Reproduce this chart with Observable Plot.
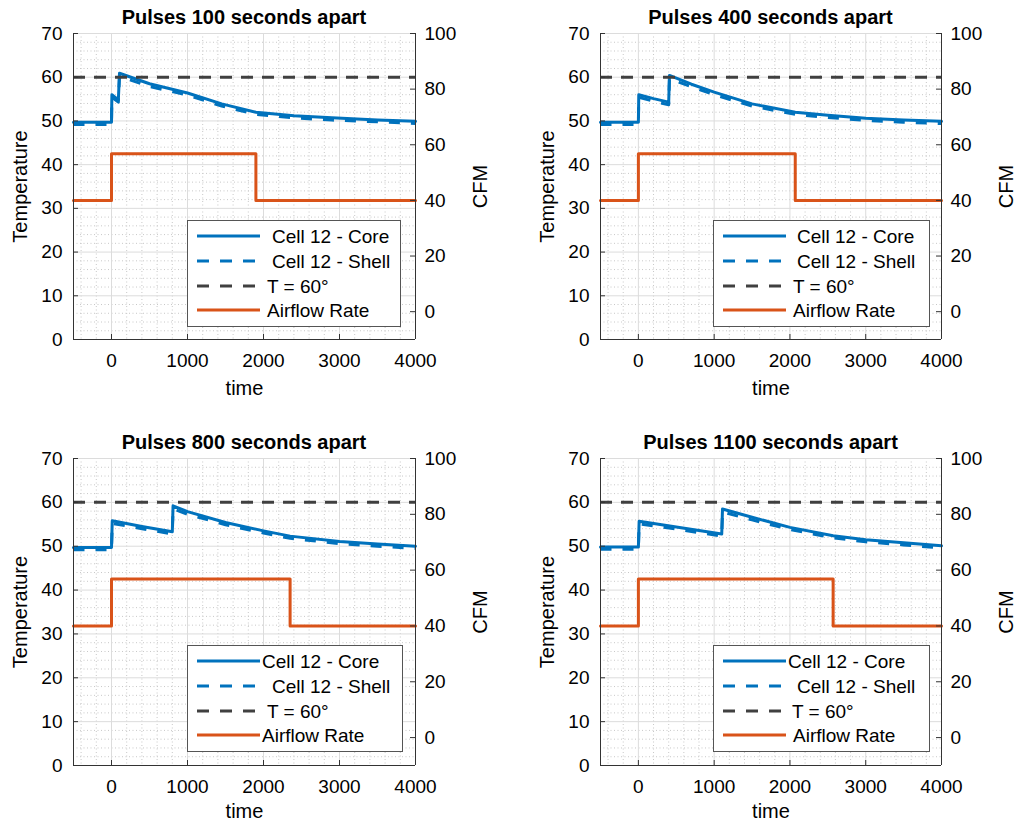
<!DOCTYPE html>
<html>
<head>
<meta charset="utf-8">
<script src="https://cdn.jsdelivr.net/npm/d3@7"></script>
<script src="https://cdn.jsdelivr.net/npm/@observablehq/plot@0.6"></script>
<style>
  html, body { margin: 0; padding: 0; background: #fff; }
  #root { position: relative; width: 1018px; height: 830px; background: #fff; overflow: hidden;
          font-family: "Liberation Sans", Arial, Helvetica, sans-serif; color: #000; }
  .title { position: absolute; text-align: center; font-weight: bold; font-size: 20px; line-height: 24px; }
  .panel { position: absolute; }
  .legend { position: absolute; }
</style>
</head>
<body>
<div id="root"></div>
<script>
// ---------------- data ----------------
const titles = ["Pulses 100 seconds apart", "Pulses 400 seconds apart", "Pulses 800 seconds apart", "Pulses 1100 seconds apart"];
const seriesNames = ["Cell 12 - Core", "Cell 12 - Shell", "T = 60°", "Airflow Rate"];

const xTicks = [0, 1000, 2000, 3000, 4000];
const tempTicks = [0, 10, 20, 30, 40, 50, 60, 70];
const cfmTicks = [0, 20, 40, 60, 80, 100];
const xDomain = [-500, 4000];
const tempDomain = [0, 70];
const cfmDomain = [-10, 100];
const threshold = [60];

// Panel 1: pulses 100 s apart
const time1  = [-500, 0, 5, 90, 105, 500, 1000, 1450, 1900, 2400, 2900, 3500, 4000];
const core1  = [49.7, 49.7, 56.0, 54.8, 60.9, 58.5, 56.4, 53.9, 52.0, 51.2, 50.7, 50.2, 49.9];
const shell1 = [49.2, 49.2, 55.4, 54.3, 60.2, 57.9, 55.9, 53.4, 51.5, 50.7, 50.2, 49.8, 49.4];
// Panel 2: pulses 400 s apart
const time2  = [-500, 0, 5, 200, 400, 410, 700, 1000, 1500, 2070, 2500, 3000, 3500, 4000];
const core2  = [49.7, 49.7, 56.0, 55.1, 54.3, 60.4, 58.4, 56.6, 53.9, 52.0, 51.3, 50.6, 50.2, 49.9];
const shell2 = [49.2, 49.2, 55.4, 54.5, 53.7, 59.7, 57.8, 56.0, 53.4, 51.5, 50.8, 50.1, 49.7, 49.4];
// Panel 3: pulses 800 s apart
const time3  = [-500, 0, 10, 400, 800, 810, 1000, 1500, 2000, 2350, 3000, 3500, 4000];
const core3  = [49.7, 49.7, 55.8, 54.5, 53.3, 59.2, 57.9, 55.4, 53.5, 52.3, 51.1, 50.5, 50.0];
const shell3 = [49.2, 49.2, 55.2, 54.0, 52.8, 58.5, 57.3, 54.9, 53.0, 51.8, 50.6, 50.0, 49.5];
// Panel 4: pulses 1100 s apart
const time4  = [-500, 0, 10, 500, 1100, 1110, 1500, 2000, 2570, 3000, 3500, 4000];
const core4  = [49.8, 49.8, 55.7, 54.4, 52.8, 58.5, 56.6, 54.3, 52.4, 51.5, 50.8, 50.1];
const shell4 = [49.3, 49.3, 55.1, 53.9, 52.3, 57.8, 56.0, 53.8, 51.9, 51.0, 50.3, 49.6];

// Airflow (CFM): step on at t = 0, off at airOff[i]
const airOff = [1900, 2070, 2350, 2570];
const airCFM = [40, 56.8, 40, 40];

const times = [time1, time2, time3, time4];
const cores = [core1, core2, core3, core4];
const shells = [shell1, shell2, shell3, shell4];

// ---------------- styles / layout ----------------
const FONT = '"Liberation Sans", Arial, Helvetica, sans-serif';
const C_CORE = "#0072BD", C_THR = "#404040", C_AIR = "#D95319";
const geoms = [
  {left: 0,   top: 0,   width: 527, height: 415, mL: 73, mR: 112, mT: 33, mB: 76, timeDy: 49},
  {left: 527, top: 0,   width: 491, height: 415, mL: 73, mR: 77,  mT: 33, mB: 76, timeDy: 49},
  {left: 0,   top: 424, width: 527, height: 406, mL: 73, mR: 112, mT: 34, mB: 65, timeDy: 46},
  {left: 527, top: 424, width: 491, height: 406, mL: 73, mR: 77,  mT: 34, mB: 65, timeDy: 46}
];
const legendBoxes = [
  {x: 187, y: 220, w: 214, off: [85, 85, 80, 80]},
  {x: 713, y: 220, w: 217, off: [84, 84, 80, 80]},
  {x: 187, y: 645, w: 216, off: [75, 85, 80, 75]},
  {x: 713, y: 645, w: 217, off: [75, 84, 79, 80]}
];

const cfmToTemp = c => (c - cfmDomain[0]) / (cfmDomain[1] - cfmDomain[0]) * (tempDomain[1] - tempDomain[0]) + tempDomain[0];
const tempToCfm = t => String(Math.round((t - tempDomain[0]) / (tempDomain[1] - tempDomain[0]) * (cfmDomain[1] - cfmDomain[0]) + cfmDomain[0]));

const minorX = d3.range(-400, 4000, 200).filter(v => v % 1000 !== 0);
const minorY = d3.range(2, 70, 2).filter(v => v % 10 !== 0);
const root = document.getElementById("root");

geoms.forEach((g, i) => {
  const innerW = g.width - g.mL - g.mR;
  const innerH = g.height - g.mT - g.mB;
  const coreRows = times[i].map((t, k) => ({t, v: cores[i][k]}));
  const shellRows = times[i].map((t, k) => ({t, v: shells[i][k]}));
  const airTimes = [xDomain[0], 0, airOff[i], xDomain[1]];
  const airRows = airTimes.map((t, k) => ({t, cfm: airCFM[k]}));

  const svg = Plot.plot({
    width: g.width, height: g.height,
    marginLeft: g.mL, marginRight: g.mR, marginTop: g.mT, marginBottom: g.mB,
    style: {fontFamily: FONT, fontSize: "19px", color: "#000", background: "transparent", overflow: "visible"},
    x: {domain: xDomain},
    y: {domain: tempDomain},
    marks: [
      // minor grid (dotted)
      Plot.ruleX(minorX, {x: d => d, stroke: "#c8c8c8", strokeWidth: 1, strokeDasharray: "1,2.5"}),
      Plot.ruleY(minorY, {y: d => d, stroke: "#c8c8c8", strokeWidth: 1, strokeDasharray: "1,2.5"}),
      // major grid
      Plot.ruleX(xTicks, {x: d => d, stroke: "#dcdcdc", strokeWidth: 1}),
      Plot.ruleY(tempTicks, {y: d => d, stroke: "#dcdcdc", strokeWidth: 1}),
      // data
      Plot.line(coreRows, {x: "t", y: "v", stroke: C_CORE, strokeWidth: 3}),
      Plot.line(shellRows, {x: "t", y: "v", stroke: C_CORE, strokeWidth: 3, strokeDasharray: "11,11", strokeLinecap: "butt"}),
      Plot.ruleY(threshold, {y: d => d, stroke: C_THR, strokeWidth: 3, strokeDasharray: "12,9", strokeLinecap: "butt"}),
      Plot.line(airRows, {x: "t", y: d => cfmToTemp(d.cfm), curve: "step-after", stroke: C_AIR, strokeWidth: 3}),
      // axis lines
      Plot.ruleX([xDomain[0]], {x: d => d, stroke: "#333", strokeWidth: 1}),
      Plot.ruleX([xDomain[1]], {x: d => d, stroke: "#333", strokeWidth: 1}),
      Plot.ruleY([tempDomain[0]], {y: d => d, stroke: "#333", strokeWidth: 1}),
      // inward ticks
      Plot.tickY(tempTicks, {y: d => d, insetRight: innerW - 5, stroke: "#333"}),
      Plot.tickY(cfmTicks.map(cfmToTemp), {y: d => d, insetLeft: innerW - 5, stroke: "#333"}),
      Plot.tickX(xTicks, {x: d => d, insetTop: innerH - 5, stroke: "#333"}),
      // tick labels
      Plot.axisY(tempTicks, {anchor: "left", tickSize: 0, tickPadding: 11, label: null, tickFormat: d => String(d), fontSize: 19}),
      Plot.axisY(cfmTicks.map(cfmToTemp), {anchor: "right", tickSize: 0, tickPadding: 9, tickFormat: tempToCfm, label: null, fontSize: 19}),
      Plot.axisX(xTicks, {anchor: "bottom", tickSize: 0, tickPadding: 14, label: null, tickFormat: d => String(d), fontSize: 19}),
      // axis titles
      Plot.text(["Temperature"], {text: d => d, frameAnchor: "left", textAnchor: "middle", lineAnchor: "middle", rotate: -90, dx: -53, fontSize: 20}),
      Plot.text(["CFM"], {text: d => d, frameAnchor: "right", textAnchor: "middle", lineAnchor: "middle", rotate: -90, dx: 65, fontSize: 20}),
      Plot.text(["time"], {text: d => d, frameAnchor: "bottom", textAnchor: "middle", lineAnchor: "middle", dy: g.timeDy, fontSize: 20})
    ]
  });
  svg.classList.add("panel");
  svg.style.left = g.left + "px";
  svg.style.top = g.top + "px";
  root.appendChild(svg);

  // title
  const t = document.createElement("div");
  t.className = "title";
  t.textContent = titles[i];
  t.style.left = (g.left + g.mL) + "px";
  t.style.width = innerW + "px";
  t.style.top = (g.top + g.mT - 28) + "px";
  root.appendChild(t);

  // legend
  const lb = legendBoxes[i];
  const lh = 107;
  const leg = d3.create("svg").attr("class", "legend")
    .attr("width", lb.w).attr("height", lh)
    .style("left", lb.x + "px").style("top", lb.y + "px");
  leg.append("rect").attr("x", 0.5).attr("y", 0.5).attr("width", lb.w - 1).attr("height", lh - 1)
    .attr("fill", "#fff").attr("stroke", "#555").attr("stroke-width", 1);
  const rowsY = [16, 41, 66, 90];
  const styles = [
    {stroke: C_CORE, dash: null},
    {stroke: C_CORE, dash: "12,11"},
    {stroke: C_THR, dash: "12,11"},
    {stroke: C_AIR, dash: null}
  ];
  seriesNames.forEach((name, k) => {
    leg.append("line").attr("x1", 10).attr("x2", 73).attr("y1", rowsY[k]).attr("y2", rowsY[k])
      .attr("stroke", styles[k].stroke).attr("stroke-width", 3)
      .attr("stroke-dasharray", styles[k].dash);
    leg.append("text").attr("x", lb.off[k]).attr("y", rowsY[k]).attr("dy", "0.35em")
      .attr("font-family", FONT).attr("font-size", 19).attr("fill", "#000").text(name);
  });
  root.appendChild(leg.node());
});
</script>
</body>
</html>
